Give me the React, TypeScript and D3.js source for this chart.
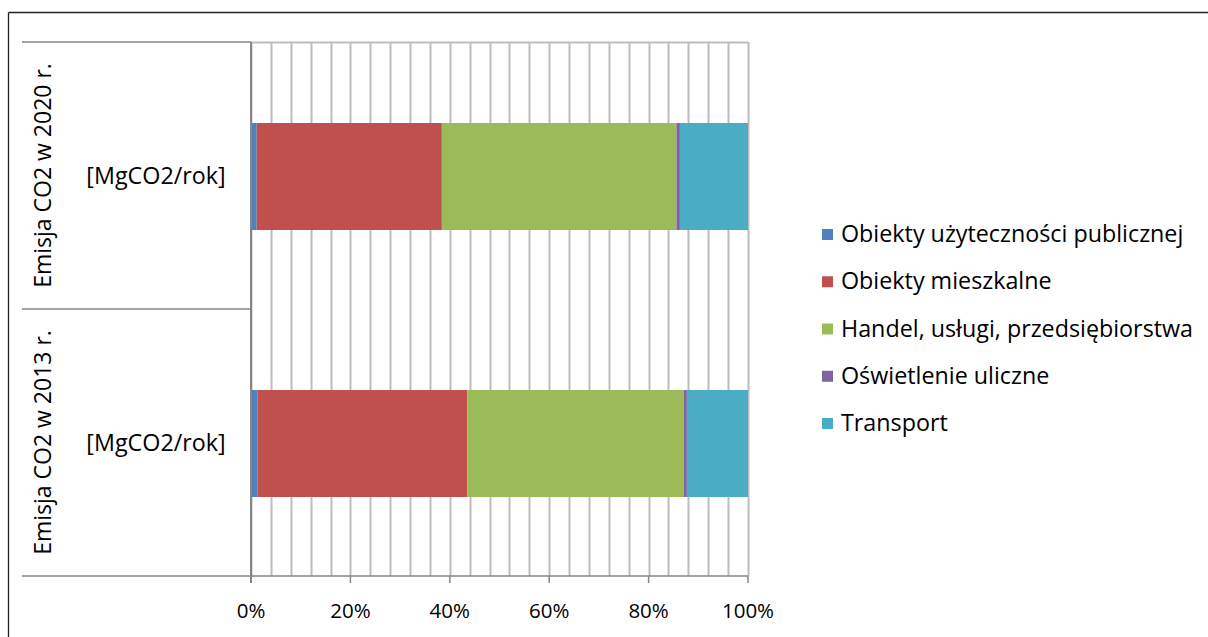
import React from "react";
import * as d3 from "d3";

const categories = ["Emisja CO2 w 2020 r.", "Emisja CO2 w 2013 r."];
const subLabels = ["[MgCO2/rok]", "[MgCO2/rok]"];
const seriesNames = [
  "Obiekty użyteczności publicznej",
  "Obiekty mieszkalne",
  "Handel, usługi, przedsiębiorstwa",
  "Oświetlenie uliczne",
  "Transport",
];
const seriesColors = ["#4F81BD", "#C0504D", "#9BBB59", "#8064A2", "#4BACC6"];
// shares (%) per category, in series order
const values2020 = [1.15, 37.25, 47.2, 0.7, 13.7];
const values2013 = [1.35, 42.15, 43.6, 0.6, 12.3];
const tickValues = [0, 0.2, 0.4, 0.6, 0.8, 1.0];

const FONT = "'Open Sans', Lato, sans-serif";

export default function App() {
  const W = 1208, H = 637;
  const left = 251, right = 748, top = 42, bottom = 576;
  const x = d3.scaleLinear().domain([0, 1]).range([left, right]);
  const y = d3.scaleBand().domain(categories).range([top, bottom]).paddingInner(0).paddingOuter(0);
  const bandH = y.bandwidth();
  const barH = 107;
  const rows = [values2020, values2013];
  const minor = d3.range(0, 1.0001, 0.04);

  const stacked = rows.map((vals) => {
    const total = d3.sum(vals);
    let acc = 0;
    return vals.map((v, i) => {
      const s = acc / total;
      acc += v;
      return { i, x0: s, x1: acc / total };
    });
  });

  const legendY = d3.scaleLinear().domain([0, 4]).range([234, 423]);

  return (
    <svg width={W} height={H} style={{ position: "absolute", left: 0, top: 0, background: "#fff" }}>
      {/* outer border */}
      <line x1={8.5} y1={12.5} x2={W + 10} y2={12.5} stroke="#222" strokeWidth={1.3} />
      <line x1={8.5} y1={12.5} x2={8.5} y2={H + 10} stroke="#222" strokeWidth={1.3} />
      {/* gridlines */}
      {minor.map((t, k) => (
        <line key={k} x1={Math.round(x(t)) + 0.5} x2={Math.round(x(t)) + 0.5} y1={top} y2={bottom} stroke="#BDBDBD" strokeWidth={2} />
      ))}
      <line x1={left} x2={right} y1={top + 0.5} y2={top + 0.5} stroke="#BDBDBD" strokeWidth={2} />
      {/* bars */}
      {stacked.map((segs, ci) => {
        const yc = (y(categories[ci]) as number) + bandH / 2;
        return segs.map((s) => (
          <rect key={ci + "-" + s.i} x={x(s.x0)} y={yc - barH / 2 + 1} width={x(s.x1) - x(s.x0)} height={barH} fill={seriesColors[s.i]} />
        ));
      })}
      {/* category axis */}
      <line x1={left} x2={left} y1={top} y2={bottom + 7} stroke="#868686" strokeWidth={2} />
      <line x1={left} x2={right} y1={bottom} y2={bottom} stroke="#868686" strokeWidth={1.5} />
      {[top, (y(categories[1]) as number), bottom].map((yy, k) => (
        <line key={k} x1={22} x2={left} y1={yy} y2={yy} stroke="#868686" strokeWidth={1.5} />
      ))}
      {tickValues.map((t, k) => (
        <g key={k}>
          <line x1={x(t)} x2={x(t)} y1={bottom} y2={bottom + 7} stroke="#868686" strokeWidth={1.5} />
          <text x={x(t)} y={bottom + 42} textAnchor="middle" fontFamily={FONT} fontSize={20.5} fill="#000">
            {d3.format(".0%")(t)}
          </text>
        </g>
      ))}
      {categories.map((c, ci) => {
        const yc = (y(c) as number) + bandH / 2;
        return (
          <g key={c}>
            <text x={156} y={yc + 8} textAnchor="middle" fontFamily={FONT} fontSize={23.3} fill="#000">
              {subLabels[ci]}
            </text>
            <text transform={`translate(51,${yc}) rotate(-90)`} textAnchor="middle" fontFamily={FONT} fontSize={23} fill="#000">
              {c}
            </text>
          </g>
        );
      })}
      {/* legend */}
      {seriesNames.map((n, i) => (
        <g key={n}>
          <rect x={822} y={legendY(i) - 5} width={11} height={11} fill={seriesColors[i]} />
          <text x={841} y={legendY(i) + 8} fontFamily={FONT} fontSize={23.3} fill="#000">
            {n}
          </text>
        </g>
      ))}
    </svg>
  );
}
